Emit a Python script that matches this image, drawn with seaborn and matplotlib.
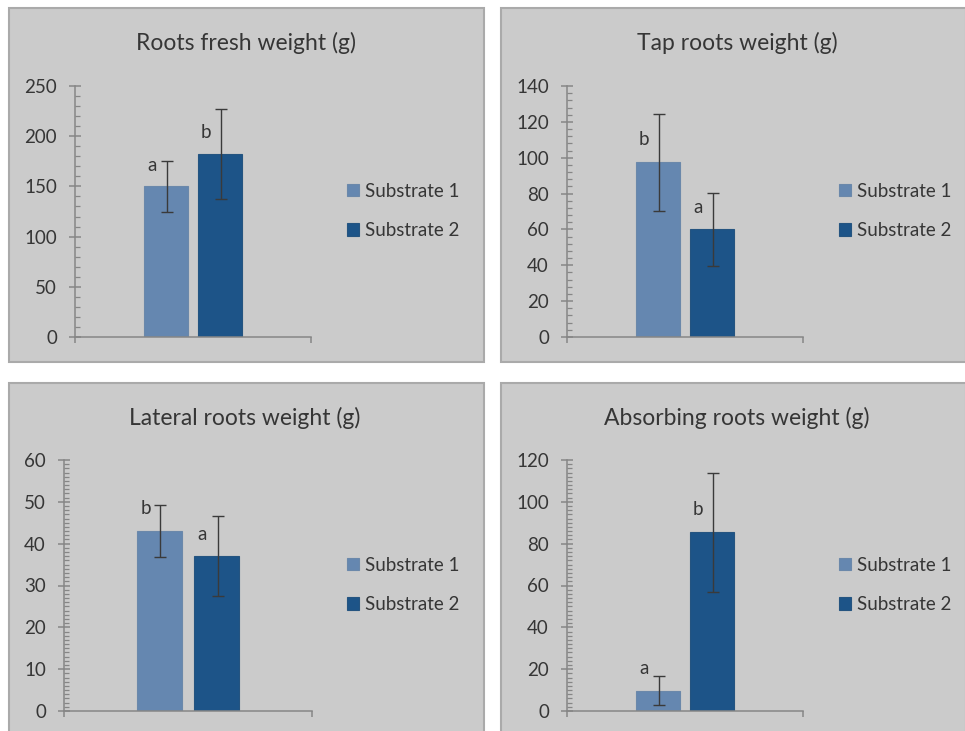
import matplotlib
matplotlib.use('Agg')
import matplotlib.pyplot as plt
from matplotlib.patches import Rectangle
from matplotlib.ticker import MultipleLocator
import seaborn as sns
import pandas as pd

# values
substrates = ['Substrate 1', 'Substrate 2']
titles = ['Roots fresh weight (g)', 'Tap roots weight (g)',
          'Lateral roots weight (g)', 'Absorbing roots weight (g)']
means = [[150, 182], [97.5, 60], [43, 37], [9.7, 85.4]]
errs = [[25, 45], [27, 20.5], [6.2, 9.6], [7, 28.5]]
letters = [['a', 'b'], ['b', 'a'], ['b', 'a'], ['a', 'b']]
letter_y = [[171, 204], [110, 72.5], [48.5, 42.3], [20.1, 96.1]]
ymax = [250, 140, 60, 120]
major = [50, 20, 10, 20]
minor = [10, 4, 1, 2]

sns.set_theme(style='white')
plt.rcParams['font.family'] = ['Lato', 'DejaVu Sans']
txt = '#363636'
axcol = '#868686'
colors = ['#6587B0', '#1D5488']

W, H = 965, 731
fig = plt.figure(figsize=(W / 100, H / 100), dpi=100)
fig.patch.set_facecolor('white')

def fx(px):
    return px / W

def fy(py):
    return 1 - py / H

# panel frames (pixel boxes)
frames = [(9, 8, 484, 362), (501, 8, 966, 362), (9, 383, 484, 733), (501, 383, 966, 733)]
for x0, y0, x1, y1 in frames:
    fig.add_artist(Rectangle((fx(x0), fy(y1)), fx(x1 - x0), (y1 - y0) / H,
                             transform=fig.transFigure, facecolor='#CBCBCB',
                             edgecolor='#AAAAAA', lw=1.5, zorder=-5))

# axes boxes: left, top, right, bottom in px
boxes = [(75, 86, 311, 337), (567, 86, 803, 337), (64, 460, 312, 711), (567, 460, 803, 711)]
title_pos = [(246, 43), (737, 43), (245, 418), (737, 418)]
leg_pos = [(347, 211), (839, 211), (347, 585), (839, 585)]

for i in range(4):
    l, t, r, b = boxes[i]
    ax = fig.add_axes([fx(l), fy(b), fx(r - l), (b - t) / H])
    ax.set_facecolor('none')
    df = pd.DataFrame({'g': ['x', 'x'], 'v': means[i], 's': substrates})
    sns.barplot(data=df, x='g', y='v', hue='s', palette=colors, width=0.46, gap=0.2,
                errorbar=None, legend=False, ax=ax, linewidth=0, saturation=1)
    bars = [c[0] for c in ax.containers]
    for j, bar in enumerate(bars):
        bar.set_edgecolor(sns.desaturate(colors[j], 0.85))
        bar.set_linewidth(0.8)
        cx = bar.get_x() + bar.get_width() / 2
        ax.errorbar(cx + 0.004, means[i][j], yerr=errs[i][j], fmt='none', ecolor='#3A3A3A',
                    elinewidth=1, capsize=4, capthick=1, zorder=5)
        ax.annotate(letters[i][j], (cx, letter_y[i][j]), xytext=(-14, 0),
                    textcoords='offset pixels', ha='center', va='center',
                    fontsize=13.5, color=txt)
    ax.set_xlim(-0.5, 0.5)
    ax.set_ylim(0, ymax[i])
    ax.set_xticks([-0.5, 0.5])
    ax.set_xticklabels([])
    ax.yaxis.set_major_locator(MultipleLocator(major[i]))
    ax.yaxis.set_minor_locator(MultipleLocator(minor[i]))
    ax.set_xlabel('')
    ax.set_ylabel('')
    for s in ['top', 'right']:
        ax.spines[s].set_visible(False)
    for s in ['left', 'bottom']:
        ax.spines[s].set_color(axcol)
        ax.spines[s].set_linewidth(1.1)
        ax.spines[s].set_zorder(6)
    ax.tick_params(axis='y', which='major', direction='inout', length=8, width=1.1,
                   color=axcol, labelsize=13.5, labelcolor=txt, pad=9, left=True)
    ax.tick_params(axis='y', which='minor', direction='in', length=3.5, width=0.9,
                   color=axcol, left=True)
    ax.tick_params(axis='x', which='major', direction='out', length=4.5, width=1.1,
                   color=axcol, bottom=True)
    ax.legend(bars, substrates, loc='center left',
              bbox_to_anchor=(fx(leg_pos[i][0]), fy(leg_pos[i][1])),
              bbox_transform=fig.transFigure, frameon=False, fontsize=13.5,
              handlelength=0.65, handleheight=0.65, handletextpad=0.3,
              labelspacing=1.2, borderpad=0, borderaxespad=0, labelcolor=txt)
    fig.text(fx(title_pos[i][0]), fy(title_pos[i][1]), titles[i], ha='center',
             va='center', fontsize=16.5, color=txt)

fig.savefig('out.png', dpi=100, facecolor='white')
